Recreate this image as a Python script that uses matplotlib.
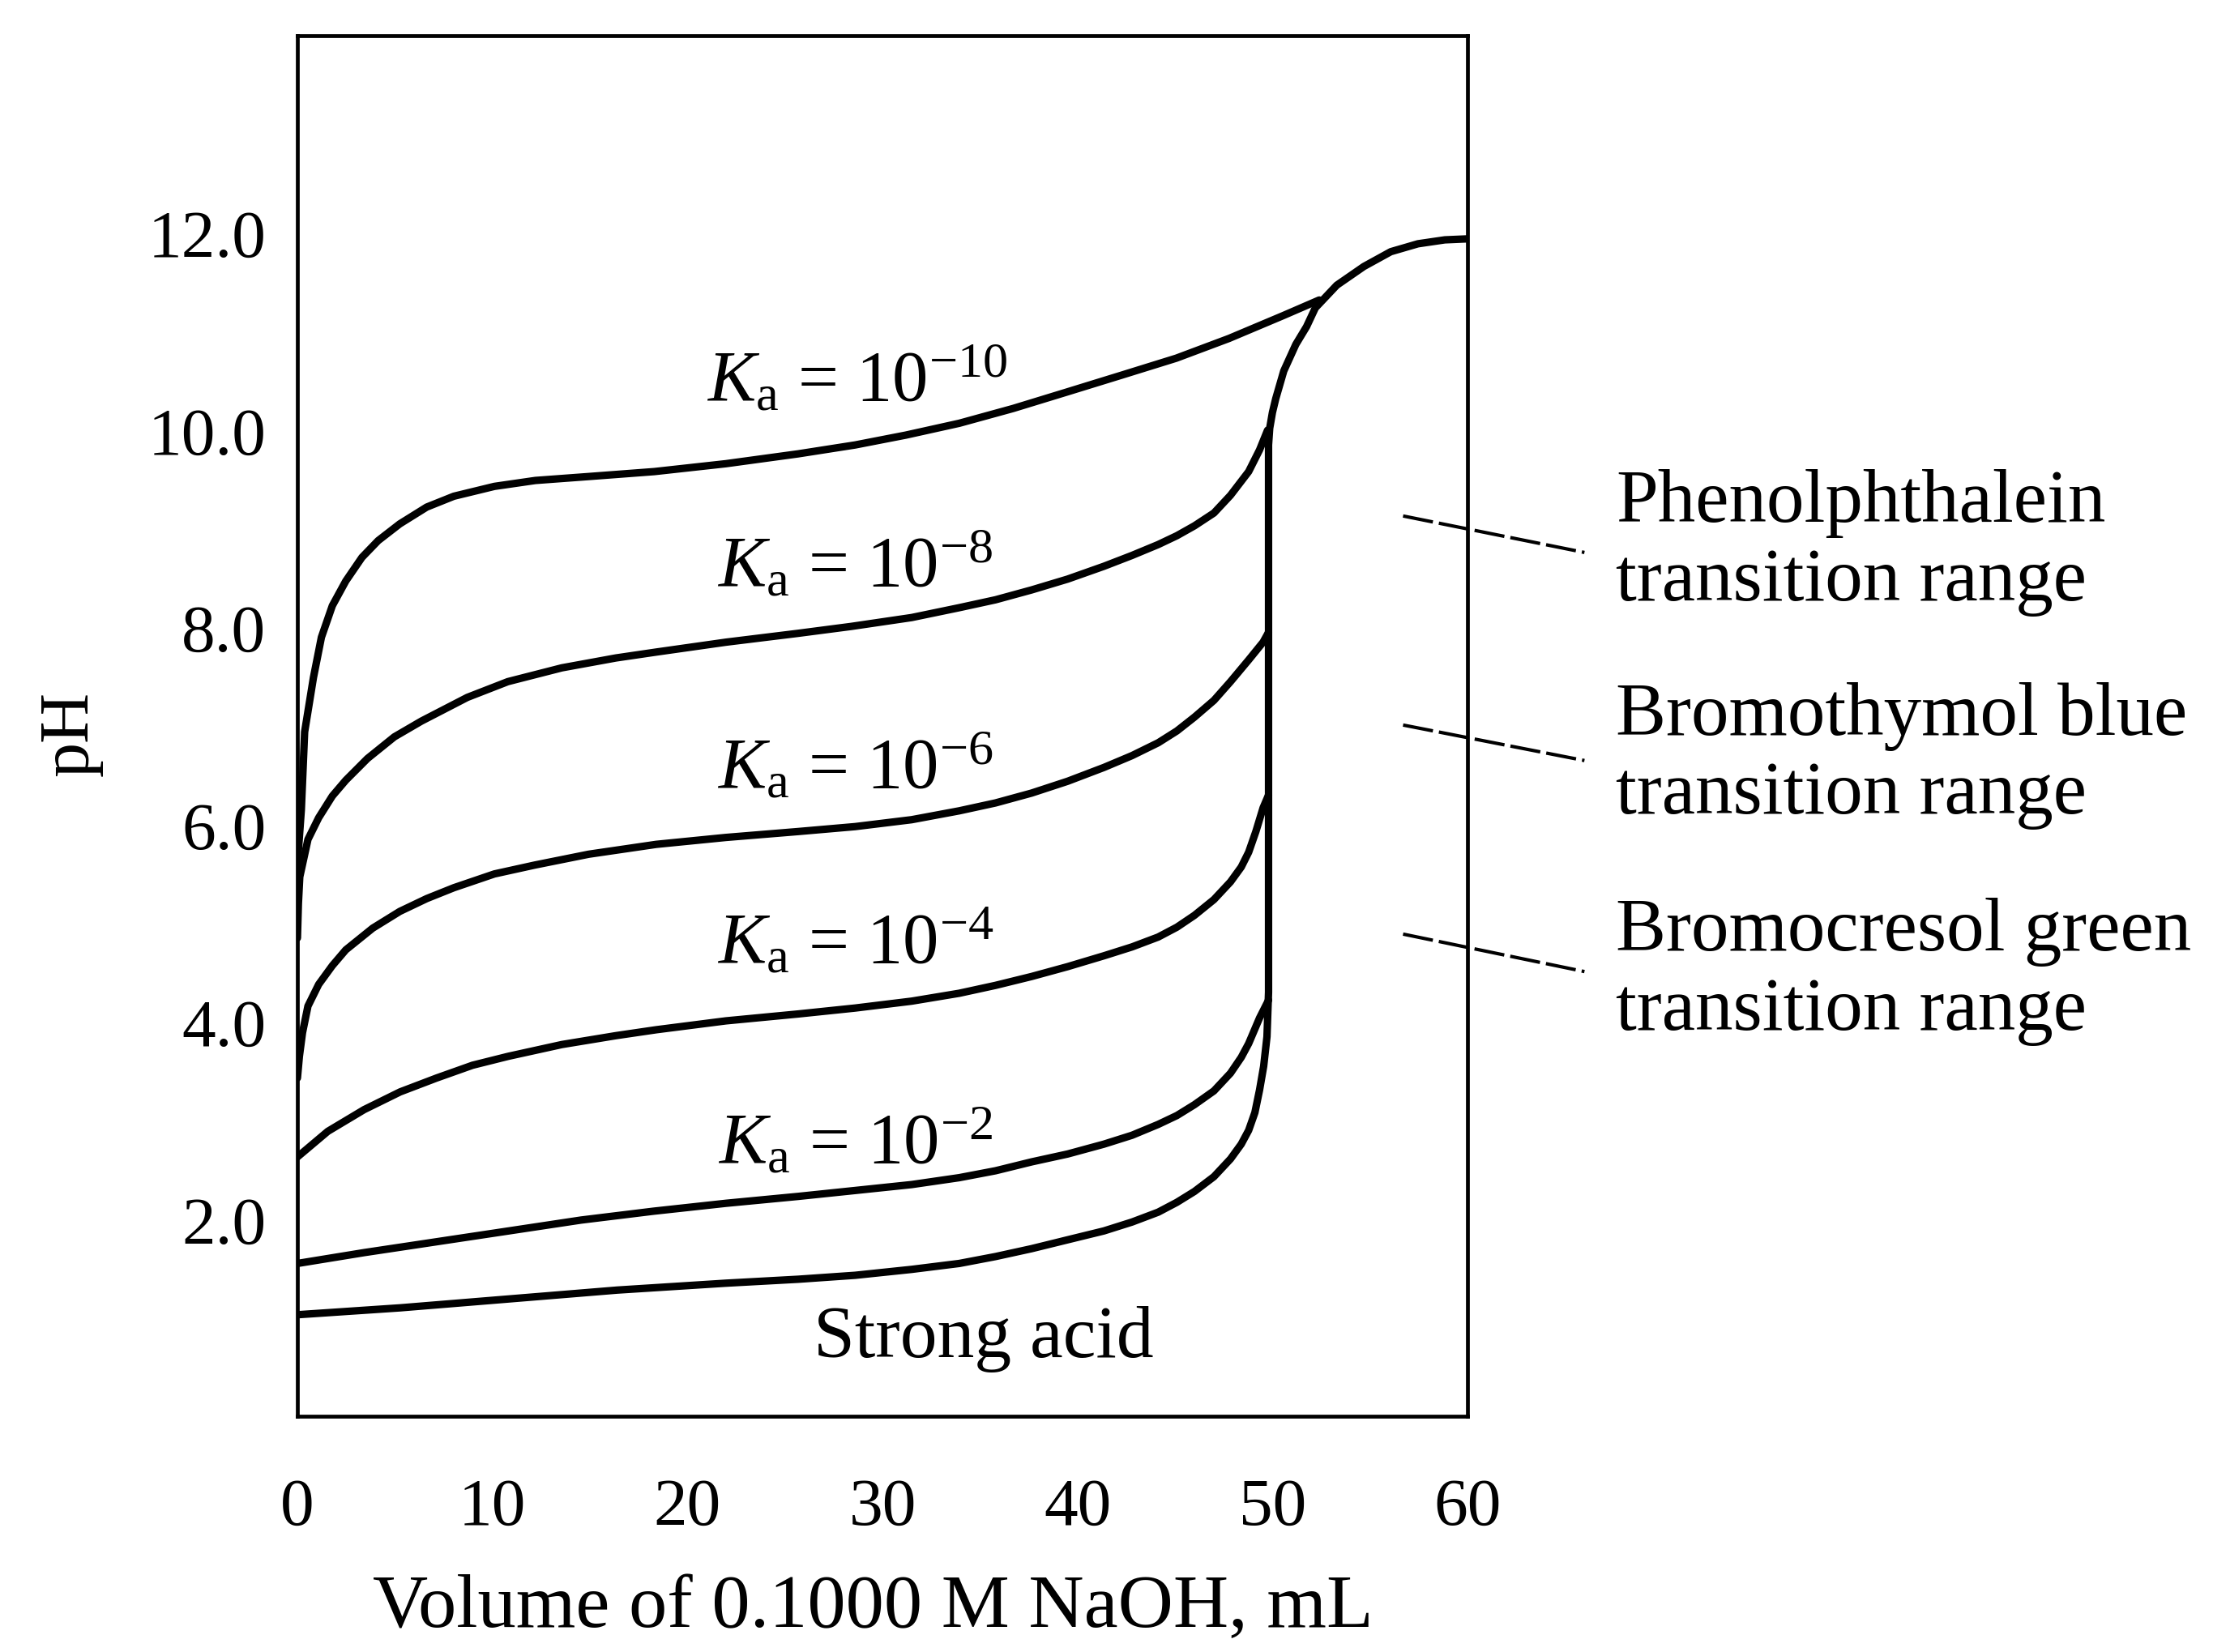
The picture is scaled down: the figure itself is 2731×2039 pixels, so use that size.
import matplotlib
matplotlib.use("Agg")
import matplotlib.pyplot as plt

plt.rcParams['font.family'] = ['Liberation Serif', 'DejaVu Serif']
plt.rcParams['mathtext.fontset'] = 'custom'
plt.rcParams['mathtext.rm'] = 'Liberation Serif'
plt.rcParams['mathtext.it'] = 'Liberation Serif:italic'

# ---- data (volume in mL, pH) ----
vol_ka10 = [0, 0.2, 0.37, 0.82, 1.23, 1.79, 2.48, 3.31, 4.14, 5.25, 6.63, 8.02,
            10.1, 12.2, 14.94, 18.3, 21.97, 25.68, 28.6, 31.2, 33.94, 36.7,
            39.51, 42.3, 45.07, 47.77, 50.53, 52.4]
ph_ka10 = [5.60, 6.15, 6.94, 7.49, 7.90, 8.22, 8.47, 8.71, 8.88, 9.05, 9.22, 9.33,
           9.43, 9.49, 9.53, 9.58, 9.66, 9.76, 9.85, 9.95, 10.07, 10.22,
           10.39, 10.56, 10.73, 10.93, 11.16, 11.32]

vol_ka8 = [0, 0.05, 0.12, 0.54, 1.09, 1.79, 2.48, 3.59, 4.97, 6.36, 8.71, 10.79,
           13.56, 16.33, 18.4, 21.97, 25.68, 28.4, 31.5, 33.94, 35.8, 37.65,
           39.5, 41.36, 42.8, 44.14, 45.1, 46.0, 47.0, 47.85, 48.78, 49.34, 49.75]
ph_ka8 = [4.85, 5.20, 5.47, 5.85, 6.07, 6.29, 6.45, 6.67, 6.89, 7.05, 7.29, 7.45,
          7.59, 7.69, 7.75, 7.85, 7.94, 8.01, 8.10, 8.20, 8.28, 8.38,
          8.49, 8.62, 8.73, 8.84, 8.93, 9.03, 9.16, 9.34, 9.58, 9.80, 10.0]

vol_ka6 = [0, 0.1, 0.26, 0.54, 1.09, 1.79, 2.48, 3.86, 5.25, 6.63, 8.02, 10.1,
           12.17, 14.94, 18.4, 21.97, 25.68, 28.6, 31.5, 33.94, 35.8, 37.65,
           39.5, 41.36, 42.8, 44.14, 45.1, 46.0, 47.0, 47.85, 48.78, 49.52, 49.8]
ph_ka6 = [3.43, 3.65, 3.89, 4.16, 4.38, 4.57, 4.73, 4.95, 5.12, 5.25, 5.36, 5.50,
          5.59, 5.70, 5.80, 5.87, 5.93, 5.98, 6.05, 6.14, 6.22, 6.32,
          6.44, 6.58, 6.70, 6.83, 6.95, 7.09, 7.26, 7.45, 7.67, 7.85, 7.95]

vol_ka4 = [0, 1.56, 3.42, 5.27, 7.13, 8.98, 10.8, 13.56, 16.33, 18.4, 21.97,
           25.68, 28.6, 31.5, 33.94, 35.8, 37.65, 39.5, 41.36, 42.8, 44.14,
           45.1, 46.0, 47.0, 47.85, 48.4, 48.78, 49.15, 49.52, 49.8]
ph_ka4 = [2.63, 2.89, 3.11, 3.29, 3.43, 3.56, 3.65, 3.77, 3.86, 3.92, 4.01,
          4.08, 4.14, 4.21, 4.29, 4.37, 4.46, 4.56, 4.67, 4.76, 4.86,
          4.96, 5.08, 5.24, 5.42, 5.57, 5.72, 5.93, 6.17, 6.30]

vol_ka2 = [0, 3.42, 7.13, 10.84, 14.54, 18.26, 21.97, 25.68, 28.6, 31.5, 33.94,
           35.8, 37.65, 39.5, 41.36, 42.8, 44.14, 45.1, 46.0, 47.0, 47.85, 48.4,
           48.78, 49.34, 49.8]
ph_ka2 = [1.55, 1.66, 1.77, 1.88, 1.99, 2.08, 2.16, 2.23, 2.29, 2.35, 2.42,
          2.49, 2.58, 2.66, 2.76, 2.85, 2.96, 3.05, 3.16, 3.30, 3.48, 3.64,
          3.78, 4.04, 4.22]

vol_strong = [0, 5.27, 10.84, 16.40, 21.97, 25.68, 28.6, 31.5, 33.94, 35.8,
              37.65, 39.5, 41.36, 42.8, 44.14, 45.1, 46.0, 47.0, 47.85, 48.4,
              48.78, 49.1, 49.34, 49.55, 49.72, 49.8, 49.8, 49.86, 50.0, 50.17,
              50.58, 51.2, 51.75, 52.2, 53.3, 54.69, 56.07, 57.46, 58.84, 60.0]
ph_strong = [1.03, 1.10, 1.19, 1.28, 1.35, 1.39, 1.43, 1.49, 1.55, 1.62,
             1.70, 1.79, 1.88, 1.97, 2.07, 2.17, 2.28, 2.43, 2.61, 2.76,
             2.90, 3.08, 3.31, 3.55, 3.85, 4.30, 9.85, 10.02, 10.18, 10.32,
             10.60, 10.87, 11.05, 11.24, 11.47, 11.66, 11.81, 11.89, 11.93, 11.94]

curve_labels = [r'$K_{\mathrm{a}}$ = 10$^{-10}$', r'$K_{\mathrm{a}}$ = 10$^{-8}$',
                r'$K_{\mathrm{a}}$ = 10$^{-6}$', r'$K_{\mathrm{a}}$ = 10$^{-4}$',
                r'$K_{\mathrm{a}}$ = 10$^{-2}$', 'Strong acid']
label_x = [28.7, 28.6, 28.6, 28.6, 28.6, 35.2]
label_ph = [10.31, 8.43, 6.38, 4.61, 2.58, 0.61]

indicator_names = ['Phenolphthalein', 'Bromothymol blue', 'Bromocresol green']
indicator_line_x = [56.7, 66.0]
indicator_ph_start = [9.13, 7.01, 4.89]
indicator_ph_end = [8.76, 6.65, 4.51]
indicator_text_ph = [9.08, 6.92, 4.73]

x_ticks = [0, 10, 20, 30, 40, 50, 60]
y_ticks = [2.0, 4.0, 6.0, 8.0, 10.0, 12.0]

# ---- figure ----
fig = plt.figure(figsize=(13.655, 10.2), dpi=200)
ax = fig.add_axes([0.1344, 0.1426, 0.5287, 0.8353])

curves = [(vol_ka10, ph_ka10), (vol_ka8, ph_ka8), (vol_ka6, ph_ka6),
          (vol_ka4, ph_ka4), (vol_ka2, ph_ka2), (vol_strong, ph_strong)]
for vx, vy in curves:
    ax.plot(vx, vy, color='black', lw=3.3, solid_joinstyle='round',
            solid_capstyle='round')

for txt, lx, ly in zip(curve_labels, label_x, label_ph):
    fs = 33 if txt == 'Strong acid' else 32
    ax.text(lx, ly, txt, ha='center', va='baseline', fontsize=fs)

for name, p0, p1, tp in zip(indicator_names, indicator_ph_start,
                            indicator_ph_end, indicator_text_ph):
    ax.plot(indicator_line_x, [p0, p1], color='black', lw=1.5,
            linestyle=(0, (9, 1.8)), clip_on=False)
    ax.text(67.6, tp, name, ha='left', va='baseline', fontsize=33.5,
            clip_on=False)
    ax.text(67.6, tp - 0.80, 'transition range', ha='left', va='baseline',
            fontsize=33.5, clip_on=False)

ax.set_xlim(0, 60)
ax.set_ylim(0, 14)
ax.set_xticks(x_ticks)
ax.set_xticklabels([str(t) for t in x_ticks])
ax.set_yticks(y_ticks)
ax.set_yticklabels(['%.1f' % t for t in y_ticks])
ax.tick_params(axis='both', length=0, labelsize=30)
ax.tick_params(axis='y', pad=14)
ax.tick_params(axis='x', pad=27)
for s in ax.spines.values():
    s.set_linewidth(1.7)
    s.set_color('black')

ax.set_xlabel('Volume of 0.1000 M NaOH, mL', fontsize=34, va='center')
ax.xaxis.set_label_coords(0.4917, -0.1385)
ax.set_ylabel('pH', fontsize=31, va='center', ha='center')
ax.yaxis.set_label_coords(-0.194, 0.495)

fig.savefig('out.png', dpi=200, facecolor='white')
